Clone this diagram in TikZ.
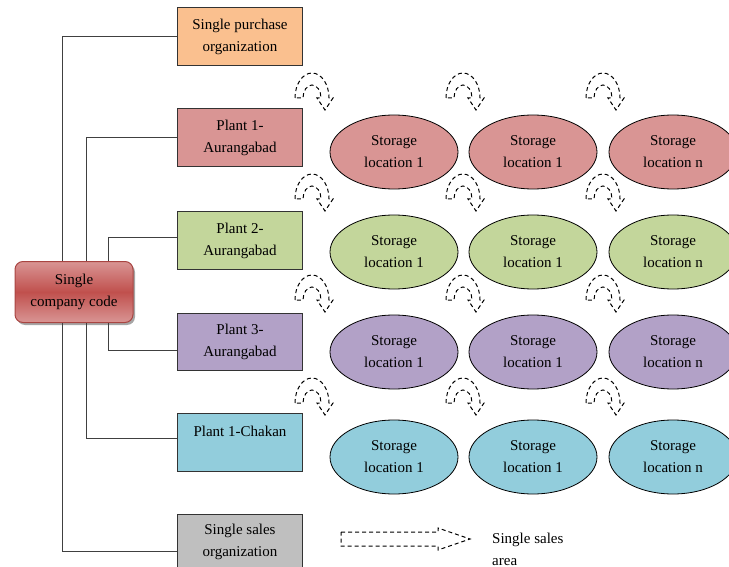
\documentclass[tikz,border=0pt]{standalone}
\usepackage{fontspec}
\setmainfont{Liberation Serif}
\usetikzlibrary{shapes.geometric}
\definecolor{cOr}{HTML}{FAC08F}
\definecolor{cRd}{HTML}{D99594}
\definecolor{cGr}{HTML}{C3D69B}
\definecolor{cPu}{HTML}{B2A1C7}
\definecolor{cBl}{HTML}{92CDDC}
\definecolor{cGy}{HTML}{BFBFBF}
\definecolor{cRdDark}{HTML}{C0504D}
\definecolor{cRdLine}{HTML}{A94542}
\begin{document}
\begin{tikzpicture}[x=1pt,y=-1pt,
  font=\fontsize{15}{22}\selectfont,
  box/.style={draw=black!80, line width=0.9pt, minimum width=125pt, minimum height=58pt,
    align=center, inner sep=0pt, anchor=north west},
  stor/.style={ellipse, draw=black, line width=0.8pt, minimum width=128pt,
    minimum height=74pt, align=center, inner sep=0pt},
  link/.style={draw=black!75, line width=1pt},
  uturn/.pic={
    \draw[dashed, line width=1pt, dash pattern=on 4pt off 3pt]
      (-17,0) arc[start angle=180, end angle=0, x radius=17pt, y radius=25pt]
      -- (21,0) -- (13,12) -- (5,0) -- (9,0)
      arc[start angle=0, end angle=180, x radius=9pt, y radius=13pt] -- cycle;
  }]
\useasboundingbox (0,0) rectangle (729,567);
\clip (0,0) rectangle (729,567);

% company code
\fill[black!35, rounded corners=8pt] (17,264) rectangle (135,325);
\node[draw=cRdLine, line width=1pt, rounded corners=8pt, minimum width=118pt,
  minimum height=61pt, align=center, inner sep=0pt,
  top color=cRd, bottom color=cRd, middle color=cRdDark] (cc) at (74,292)
  {Single\\company code};

% boxes
\node[box, fill=cOr] (pur) at (177,7) {Single purchase\\organization};
\node[box, fill=cRd] (p1) at (177,108) {Plant 1-\\Aurangabad};
\node[box, fill=cGr] (p2) at (177,211) {Plant 2-\\Aurangabad};
\node[box, fill=cPu, minimum height=57pt] (p3) at (177,313) {Plant 3-\\Aurangabad};
\node[box, fill=cBl] (pc) at (177,413) {Plant 1-Chakan\\\mbox{}};
\node[box, fill=cGy, minimum height=55pt] (sal) at (177,514) {Single sales\\organization};

% trunk coordinates
\coordinate (t1) at (62,292);
\coordinate (t2) at (86,292);
\coordinate (t3) at (108,292);

\draw[link] (t1 |- cc.north) |- (pur.west);
\draw[link] (t1 |- cc.south) |- ([yshift=-10pt]sal.west);
\draw[link] (t2 |- cc.north) |- (p1.west);
\draw[link] (t2 |- cc.south) |- ([yshift=4pt]pc.west);
\draw[link] (t3 |- cc.north) |- ([yshift=3pt]p2.west);
\draw[link] (t3 |- cc.south) |- ([yshift=-8.5pt]p3.west);

% storage locations
\foreach \r/\yy/\cl in {1/152/cRd, 2/252/cGr, 3/352/cPu, 4/457/cBl}{
  \node[stor, fill=\cl] (s\r a) at (394,\yy) {Storage\\location 1};
  \node[stor, fill=\cl] (s\r b) at (533,\yy) {Storage\\location 1};
  \node[stor, fill=\cl] (s\r c) at (673,\yy) {Storage\\location n};
}

% u-turn arrows
\foreach \yy in {98,199,300,403}{
  \foreach \xx in {312,463,603}{
    \pic at (\xx,\yy) {uturn};
  }
}

% legend
\draw[dashed, line width=1pt, dash pattern=on 4pt off 3pt]
  (341,532) -- (438,532) -- (438,528) -- (470,539) -- (438,550) -- (438,546) -- (341,546) -- cycle;
\node[align=left, anchor=west, inner sep=0pt] (leg) at (492,549) {Single sales\\area};
\end{tikzpicture}
\end{document}
